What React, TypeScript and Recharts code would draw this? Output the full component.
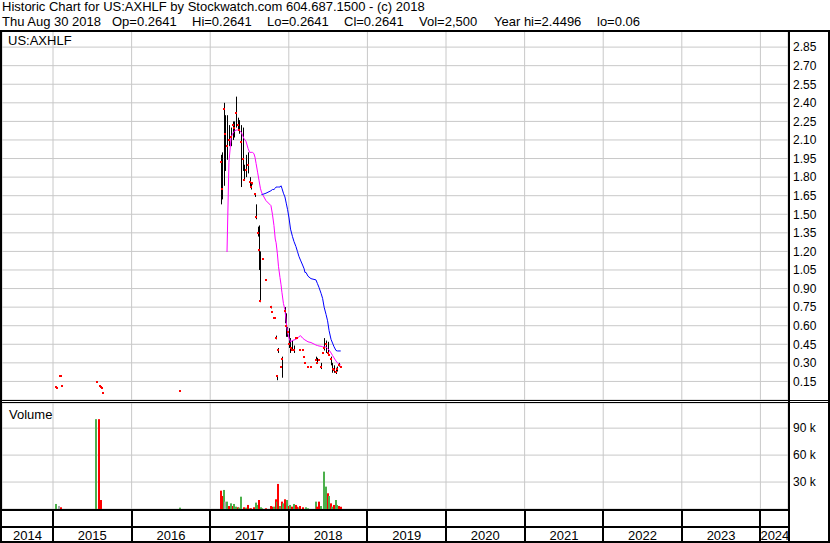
import React from "react";
import { Bar, CartesianGrid, ComposedChart, Line, XAxis, YAxis } from "recharts";

const _ = null;

// trading days (sparse: only the days that show up on the chart)
const days = [
  "2015-01-15", "2015-01-20", "2015-01-28", "2015-02-03", "2015-02-07", "2015-02-11", "2015-07-20",
  "2015-07-24", "2015-08-01", "2015-08-07", "2015-08-12", "2015-08-16", "2015-08-21", "2016-08-13",
  "2017-02-18", "2017-02-25", "2017-03-04", "2017-03-11", "2017-03-20", "2017-03-29", "2017-04-08", "2017-04-15", "2017-04-22", "2017-05-01",
  "2017-05-08", "2017-05-15", "2017-05-26", "2017-06-02", "2017-06-07", "2017-06-16", "2017-06-26", "2017-07-03", "2017-07-10", "2017-07-16",
  "2017-07-23", "2017-07-28", "2017-08-02", "2017-08-09", "2017-08-16", "2017-08-22", "2017-08-27", "2017-09-01", "2017-09-17", "2017-10-10",
  "2017-10-17", "2017-10-24", "2017-10-30", "2017-11-03", "2017-11-09", "2017-11-14", "2017-11-21", "2017-11-26", "2017-11-30", "2017-12-07",
  "2017-12-14", "2017-12-20", "2017-12-26",
  "2018-01-02", "2018-01-09", "2018-01-18", "2018-01-25", "2018-02-03", "2018-02-10", "2018-02-17", "2018-02-24", "2018-03-06", "2018-03-13",
  "2018-03-17", "2018-03-22", "2018-03-31", "2018-04-14", "2018-05-07", "2018-05-14", "2018-05-21", "2018-05-31", "2018-06-07", "2018-06-14",
  "2018-06-23", "2018-06-30", "2018-07-07", "2018-07-16", "2018-07-23", "2018-07-30", "2018-08-08", "2018-08-15", "2018-08-22", "2018-08-30",
];

const high = [
  _, _, _, _, _, _, _, _, _, _, _, _, _, _,
  1.98, 2.0, 2.4, 2.3, 2.3, 2.22, 2.2, 2.25, 2.25, 2.45,
  2.28, 2.26, 2.22, 2.2, 1.9, 1.98, 2.0, 1.8, 1.76, 1.76,
  _, 1.66, 1.58, 1.4, 1.41, 1.2, _, 1.14, 0.97, 0.76,
  _, _, _, 0.52, 0.2, 0.42, _, _, 0.35, _,
  0.75, 0.7, 0.59,
  0.58, 0.5, 0.48, 0.44, _, _, _, 0.41, _, _,
  _, _, _, _, 0.35, 0.34, _, 0.3, _, 0.5,
  0.48, 0.47, _, 0.35, 0.3, 0.28, 0.26, 0.27, 0.3, 0.2641,
];

const low = [
  _, _, _, _, _, _, _, _, _, _, _, _, _, _,
  1.58, 1.62, 1.73, 1.85, 1.94, 2.05, 2.05, 2.1, 2.12, 2.2,
  2.18, 2.15, 1.72, 1.85, 1.78, 1.8, 1.83, 1.72, 1.7, 1.74,
  _, 1.64, 1.46, 1.32, 1.05, 0.79, _, 1.14, 0.97, 0.74,
  _, _, _, 0.49, 0.16, 0.38, _, _, 0.18, _,
  0.62, 0.51, 0.51,
  0.42, 0.38, 0.4, 0.38, _, _, _, 0.4, _, _,
  _, _, _, _, 0.32, 0.3, _, 0.25, _, 0.4,
  0.38, 0.36, _, 0.28, 0.22, 0.22, 0.21, 0.23, 0.27, 0.2641,
];

const close = [
  0.105, 0.097, _, 0.194, 0.194, 0.117, _, 0.145, _, 0.117, 0.105, 0.097, 0.057, 0.073,
  1.92, 1.7, 2.35, 2.15, 2.05, 2.1, 2.12, 2.22, 2.2, 2.32,
  2.22, 2.18, 2.08, 1.95, 1.78, 1.86, 1.9, 1.76, 1.72, 1.75,
  _, 1.66, 1.48, 1.35, 1.21, 0.8, _, 1.14, 0.97, 0.75,
  0.71, 0.66, 0.66, 0.5, 0.19, 0.4, _, 0.27, 0.33, _,
  0.72, 0.6, 0.55,
  0.45, 0.42, 0.4, 0.4, 0.5, 0.5, _, 0.4, 0.4, 0.35,
  0.3, _, 0.27, 0.27, 0.32, 0.3, 0.32, 0.27, 0.38, 0.42,
  0.45, 0.38, 0.36, 0.33, 0.25, 0.24, 0.23, 0.25, 0.28, 0.2641,
];

// moving averages as drawn on the chart (magenta = short, blue = long)
const maShort = [
  _, _, _, _, _, _, _, _, _, _, _, _, _, _,
  _, _, _, _, 1.195, 1.92, 2.12, 2.15, 2.17, 2.18,
  2.18, 2.18, 2.16, 2.13, 2.11, 2.09, 2.03, 2.0, 2.0, 2.0,
  1.99, 1.96, 1.91, 1.84, 1.77, 1.71, 1.68, 1.66, 1.61, 1.57,
  1.5, 1.41, 1.3, 1.27, 1.18, 1.08, 0.99, 0.93, 0.87, 0.78,
  0.73, 0.63, 0.55,
  0.5, 0.47, 0.48, 0.485, 0.49, 0.5, 0.51, 0.52, 0.5, 0.49,
  0.485, 0.48, 0.47, 0.464, 0.444, 0.44, 0.436, 0.434, 0.43, 0.428,
  0.428, 0.416, 0.404, 0.38, 0.36, 0.34, 0.315, 0.3, 0.29, 0.283,
];

const maLong = [
  _, _, _, _, _, _, _, _, _, _, _, _, _, _,
  _, _, _, _, _, _, _, _, _, _,
  _, _, _, _, _, _, _, _, _, _,
  _, _, _, _, _, _, 1.66, 1.66, 1.67, 1.69,
  1.7, 1.7, 1.71, 1.72, 1.72, 1.72, 1.72, 1.73, 1.71, 1.67,
  1.64, 1.59, 1.54,
  1.47, 1.38, 1.32, 1.28, 1.24, 1.2, 1.16, 1.13, 1.09, 1.06,
  1.03, 1.03, 1.0, 0.98, 0.97, 0.94, 0.91, 0.86, 0.82, 0.75,
  0.69, 0.64, 0.56, 0.49, 0.46, 0.43, 0.4, 0.396, 0.396, 0.396,
];

const volume = [
  5600, _, 3300, _, 1900, _, 100000, _, 100000, _, 10000, _, _, 1500,
  20400, 14500, 21200, 8200, 8200, 3300, 6300, 3300, 5600, 2600,
  1900, 1500, 13700, _, 1900, 1500, 4500, 800, 800, _,
  1900, _, 7100, 4500, 10000, _, 1900, 800, 800, 3300,
  2600, 2600, _, 10800, 8200, 27900, 3300, _, 8200, 6300,
  10800, _, 10000,
  3300, 4500, 2600, 5600, 4500, 2600, 1900, 3300, 1900, _,
  _, 1900, 800, _, 8200, 2600, 8200, 3300, _, 41600,
  24900, 17500, 14500, 6300, 2600, 4500, 10000, 4500, 3300, 2500,
];

// u = up day (green), d = down day (red), f = unchanged (grey)
const volumeDir = [
  "u", _, "f", _, "d", _, "u", _, "d", _, "d", _, _, "u",
  "d", "d", "u", "f", "u", "d", "u", "d", "u", "u",
  "d", "u", "u", _, "d", "u", "d", "u", "d", _,
  "d", _, "u", "u", "d", _, "u", "u", "d", "d",
  "d", "u", _, "d", "u", "d", "u", _, "d", "u",
  "d", _, "u",
  "d", "u", "d", "u", "d", "d", "u", "d", "d", _,
  _, "u", "u", _, "u", "d", "d", "u", _, "u",
  "u", "d", "u", "d", "u", "d", "u", "u", "d", "d",
];

const yearTicks = [2015, 2016, 2017, 2018, 2019, 2020, 2021, 2022, 2023, 2024];
const yearLabels = [2014, 2015, 2016, 2017, 2018, 2019, 2020, 2021, 2022, 2023, 2024];
const priceTicks = [
  0.15, 0.3, 0.45, 0.6, 0.75, 0.9, 1.05, 1.2, 1.35, 1.5,
  1.65, 1.8, 1.95, 2.1, 2.25, 2.4, 2.55, 2.7, 2.85,
];
const volumeTicks = [30000, 60000, 90000];

// header line 2 fields and where each one starts
const quoteFields = [
  "Thu Aug 30 2018", "Op=0.2641", "Hi=0.2641", "Lo=0.2641", "Cl=0.2641",
  "Vol=2,500", "Year hi=2.4496", "lo=0.06",
];
const quoteFieldX = [2, 112, 192, 267, 344, 419, 494, 597];

const FONT = "Arial, 'Liberation Sans', sans-serif";
const X_START = 2014.351;
const X_END = 2024.351;
const PLOT_LEFT = 2;
const PLOT_W = 786;
const VOL_COLORS: Record<string, string> = { u: "#4cb04c", d: "#ff0000", f: "#a8a8a8" };

function toYear(iso: string) {
  const [y, m, d] = iso.split("-").map(Number);
  const start = Date.UTC(y, 0, 1);
  const end = Date.UTC(y + 1, 0, 1);
  return y + (Date.UTC(y, m - 1, d) - start) / (end - start);
}

const rows = days.map((day, i) => ({
  t: toYear(day),
  range: high[i] != null && low[i] != null ? [low[i], high[i]] : null,
  close: close[i],
  fast: maShort[i],
  slow: maLong[i],
  vol: volume[i],
  dir: volumeDir[i],
}));

const yearX = (y: number) => PLOT_LEFT + ((y - X_START) / (X_END - X_START)) * PLOT_W;

function Stick(props: any) {
  const { x, y, width, height } = props;
  if (!height || height <= 0) return <g />;
  return <rect x={Math.round(x + width / 2)} y={y} width={1} height={height} fill="#000" />;
}

function VolBar(props: any) {
  const { x, y, width, height, payload } = props;
  if (!height || height <= 0) return <g />;
  return (
    <rect
      x={Math.round(x + width / 2) - 1}
      y={y}
      width={2}
      height={height}
      fill={VOL_COLORS[payload.dir] || "#a8a8a8"}
    />
  );
}

function CloseDot(props: any) {
  const { cx, cy, index, value } = props;
  if (value == null || cx == null || cy == null) return <g key={`c${index}`} />;
  return (
    <rect key={`c${index}`} x={Math.round(cx) - 1} y={Math.round(cy) - 1} width={2} height={2} fill="#ff0000" />
  );
}

const box = (left: number, top: number, width: number, height: number, key: string) => (
  <div key={key} style={{ position: "absolute", left, top, width, height, background: "#000" }} />
);

const text13 = { position: "absolute" as const, fontSize: 13, lineHeight: "13px", whiteSpace: "pre" as const };

export default function App() {
  return (
    <div
      style={{
        position: "absolute",
        left: 0,
        top: 0,
        width: 830,
        height: 543,
        background: "#fff",
        fontFamily: FONT,
        color: "#000",
        overflow: "hidden",
      }}
    >
      <div style={{ ...text13, left: 2, top: 0 }}>
        Historic Chart for US:AXHLF by Stockwatch.com 604.687.1500 - (c) 2018
      </div>
      {quoteFields.map((f, i) => (
        <div key={f} style={{ ...text13, left: quoteFieldX[i], top: 15 }}>
          {f}
        </div>
      ))}

      <div style={{ position: "absolute", left: PLOT_LEFT, top: 31 }}>
        <ComposedChart width={827} height={369} data={rows} margin={{ top: 0, right: 0, bottom: 0, left: 0 }}>
          <CartesianGrid stroke="#c8c8c8" />
          <XAxis type="number" dataKey="t" domain={[X_START, X_END]} ticks={yearTicks} hide allowDataOverflow />
          <YAxis
            orientation="right"
            width={41}
            domain={[0, 2.98]}
            ticks={priceTicks}
            interval={0}
            tickSize={0}
            tickMargin={5}
            axisLine={false}
            tickLine={false}
            tick={{ fontSize: 12, fill: "#000", fontFamily: FONT }}
            tickFormatter={(v: number) => v.toFixed(2)}
            allowDataOverflow
          />
          <Bar dataKey="range" barSize={2} shape={Stick} isAnimationActive={false} />
          <Line dataKey="fast" stroke="#ff00ff" strokeWidth={1} dot={false} connectNulls isAnimationActive={false} />
          <Line dataKey="slow" stroke="#0000ff" strokeWidth={1} dot={false} connectNulls isAnimationActive={false} />
          <Line dataKey="close" stroke="none" dot={CloseDot} activeDot={false} isAnimationActive={false} />
        </ComposedChart>
      </div>

      <div style={{ position: "absolute", left: PLOT_LEFT, top: 403 }}>
        <ComposedChart width={827} height={106} data={rows} margin={{ top: 0, right: 0, bottom: 0, left: 0 }}>
          <CartesianGrid stroke="#c8c8c8" />
          <XAxis type="number" dataKey="t" domain={[X_START, X_END]} ticks={yearTicks} hide allowDataOverflow />
          <YAxis
            orientation="right"
            width={41}
            domain={[0, 118000]}
            ticks={volumeTicks}
            interval={0}
            tickSize={0}
            tickMargin={5}
            axisLine={false}
            tickLine={false}
            tick={{ fontSize: 12, fill: "#000", fontFamily: FONT }}
            tickFormatter={(v: number) => `${v / 1000} k`}
            allowDataOverflow
          />
          <Bar dataKey="vol" barSize={2} shape={VolBar} isAnimationActive={false} />
        </ComposedChart>
      </div>

      <div style={{ ...text13, left: 8, top: 34 }}>US:AXHLF</div>
      <div style={{ ...text13, left: 9, top: 408 }}>Volume</div>

      {yearLabels.map((y) => {
        const l = Math.max(PLOT_LEFT, yearX(y));
        const r = Math.min(PLOT_LEFT + PLOT_W, yearX(y + 1));
        return (
          <div key={`y${y}`} style={{ ...text13, left: l, width: r - l, top: 529, textAlign: "center" }}>
            {y}
          </div>
        );
      })}

      {box(0, 30, 830, 2, "top")}
      {box(0, 30, 2, 513, "left")}
      {box(828, 30, 2, 513, "right")}
      {box(788, 30, 2, 513, "axis")}
      {box(0, 400, 830, 1, "sep1")}
      {box(0, 402, 830, 1, "sep2")}
      {box(0, 509, 790, 2, "volBottom")}
      {box(0, 526, 790, 2, "rowLine")}
      {box(0, 541, 830, 2, "bottom")}
      {yearTicks.map((y) => box(Math.round(yearX(y)) - 1, 509, 2, 34, `d${y}`))}
    </div>
  );
}
